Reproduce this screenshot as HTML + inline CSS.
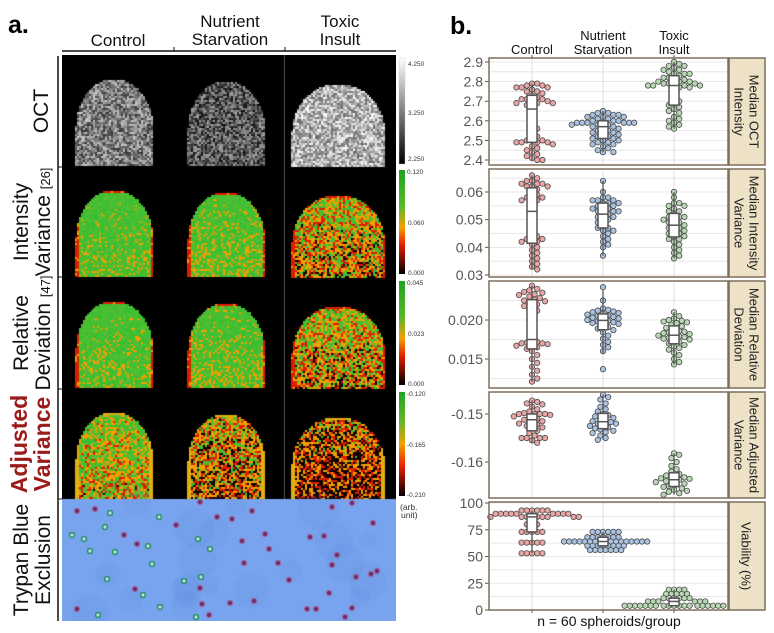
<!DOCTYPE html>
<html><head><meta charset="utf-8">
<style>
html,body{margin:0;padding:0;background:#fff;}
#root{position:relative;width:774px;height:633px;overflow:hidden;font-family:"Liberation Sans",sans-serif;}
canvas{position:absolute;left:62px;top:55px;}
svg{position:absolute;left:0;top:0;}
</style></head>
<body>
<div id="root">
<canvas id="imgs" width="334" height="566"></canvas>
<svg id="fig" width="774" height="633" xmlns="http://www.w3.org/2000/svg">
  <text x="8" y="33" font-size="25" font-weight="bold">a.</text>
  <text x="450" y="34" font-size="25" font-weight="bold">b.</text>
  <g font-size="17" text-anchor="middle" fill="#111">
    <text x="118" y="46">Control</text>
    <text x="230" y="27">Nutrient</text>
    <text x="230" y="45">Starvation</text>
    <text x="340" y="27">Toxic</text>
    <text x="340" y="45">Insult</text>
  </g>
  <line x1="62" y1="51" x2="396" y2="51" stroke="#111" stroke-width="1.5"/>
  <line x1="174" y1="47" x2="174" y2="51" stroke="#111"/>
  <line x1="285" y1="47" x2="285" y2="51" stroke="#111"/>
  <line x1="58" y1="56" x2="58" y2="621" stroke="#111" stroke-width="1.5"/>
  <g stroke="#111">
    <line x1="58" y1="167" x2="62" y2="167"/><line x1="58" y1="277" x2="62" y2="277"/>
    <line x1="58" y1="389" x2="62" y2="389"/><line x1="58" y1="499" x2="62" y2="499"/>
  </g>
  <g font-size="21" text-anchor="middle" fill="#111">
    <text transform="translate(48,111) rotate(-90)">OCT</text>
    <text transform="translate(28,222) rotate(-90)">Intensity</text>
    <text transform="translate(50,222) rotate(-90)">Variance <tspan font-size="13">[26]</tspan></text>
    <text transform="translate(28,333) rotate(-90)">Relative</text>
    <text transform="translate(50,333) rotate(-90)">Deviation <tspan font-size="13">[47]</tspan></text>
    <text transform="translate(27,444) rotate(-90)" fill="#9b1b1b" font-weight="bold" font-size="23">Adjusted</text>
    <text transform="translate(50,444) rotate(-90)" fill="#9b1b1b" font-weight="bold" font-size="23">Variance</text>
    <text transform="translate(28,560) rotate(-90)">Trypan Blue</text>
    <text transform="translate(50,560) rotate(-90)">Exclusion</text>
  </g>
  <defs>
    <linearGradient id="gGray" x1="0" y1="0" x2="0" y2="1"><stop offset="0" stop-color="#fff"/><stop offset="1" stop-color="#000"/></linearGradient>
    <linearGradient id="gHeat" x1="0" y1="0" x2="0" y2="1"><stop offset="0" stop-color="#1fa31f"/><stop offset="0.35" stop-color="#58b82a"/><stop offset="0.55" stop-color="#f2a000"/><stop offset="0.72" stop-color="#e81c00"/><stop offset="1" stop-color="#000"/></linearGradient>
    <linearGradient id="gHeat2" x1="0" y1="0" x2="0" y2="1"><stop offset="0" stop-color="#1fa31f"/><stop offset="0.3" stop-color="#6cb52a"/><stop offset="0.5" stop-color="#f2a000"/><stop offset="0.72" stop-color="#e81c00"/><stop offset="1" stop-color="#000"/></linearGradient>
  </defs>
  <g>
    <rect x="399" y="58" width="6" height="106" fill="url(#gGray)" stroke="#ccc" stroke-width="0.4"/>
    <rect x="399" y="170" width="6" height="104" fill="url(#gHeat)"/>
    <rect x="399" y="281" width="6" height="104" fill="url(#gHeat)"/>
    <rect x="399" y="392" width="6" height="104" fill="url(#gHeat2)"/>
  </g>
  <g font-size="6.5" fill="#333">
    <text x="408" y="66">4.250</text><text x="408" y="115">3.250</text><text x="408" y="161">2.250</text>
    <text x="407" y="174">0.120</text><text x="408" y="225">0.060</text><text x="408" y="275">0.000</text>
    <text x="407" y="285">0.045</text><text x="408" y="336">0.023</text><text x="408" y="386">0.000</text>
    <text x="407" y="396">-0.120</text><text x="407" y="447">-0.165</text><text x="407" y="497">-0.210</text>
    <text x="400" y="510" font-size="8.5">(arb.</text>
    <text x="401" y="518" font-size="8.5">unit)</text>
  </g>
  <g font-size="13" text-anchor="middle" fill="#111">
    <text x="532" y="54">Control</text>
    <text x="603" y="40">Nutrient</text>
    <text x="603" y="54">Starvation</text>
    <text x="674" y="40">Toxic</text>
    <text x="674" y="54">Insult</text>
  </g>
  <g id="plots"></g>
  <text x="609" y="626" font-size="14" text-anchor="middle" fill="#111">n = 60 spheroids/group</text>
</svg>
</div>
<script>
// ---------- chart data ----------
const categories = ["Control","Nutrient Starvation","Toxic Insult"];
const octCtrl=[2.79,2.79,2.78,2.78,2.77,2.77,2.77,2.76,2.75,2.75,2.74,2.73,2.72,2.71,2.71,2.71,2.70,2.70,2.69,2.69,2.69,2.68,2.66,2.62,2.58,2.56,2.54,2.52,2.50,2.50,2.50,2.49,2.49,2.49,2.49,2.48,2.47,2.46,2.45,2.44,2.43,2.42,2.41,2.40,2.40];
const octNutr=[2.65,2.64,2.64,2.63,2.63,2.63,2.62,2.62,2.62,2.61,2.61,2.60,2.60,2.60,2.59,2.59,2.59,2.59,2.59,2.59,2.59,2.58,2.58,2.58,2.57,2.57,2.56,2.56,2.55,2.55,2.54,2.54,2.53,2.53,2.52,2.52,2.51,2.51,2.50,2.50,2.49,2.49,2.48,2.48,2.47,2.46,2.45,2.44,2.44];
const octTox=[2.90,2.89,2.88,2.88,2.87,2.86,2.86,2.85,2.84,2.84,2.84,2.83,2.82,2.82,2.81,2.81,2.80,2.80,2.80,2.79,2.79,2.79,2.78,2.78,2.78,2.78,2.78,2.77,2.77,2.75,2.72,2.70,2.69,2.68,2.67,2.66,2.65,2.64,2.62,2.61,2.60,2.59,2.58,2.57,2.56];
const ivCtrl=[0.066,0.065,0.064,0.064,0.063,0.063,0.063,0.062,0.062,0.062,0.061,0.060,0.059,0.058,0.058,0.058,0.057,0.057,0.055,0.053,0.050,0.047,0.045,0.044,0.043,0.043,0.043,0.042,0.042,0.041,0.040,0.039,0.038,0.037,0.036,0.035,0.034,0.033,0.032];
const ivNutr=[0.064,0.060,0.058,0.058,0.057,0.057,0.057,0.056,0.056,0.056,0.055,0.055,0.054,0.054,0.054,0.053,0.053,0.053,0.052,0.052,0.051,0.051,0.050,0.050,0.049,0.048,0.047,0.047,0.046,0.046,0.045,0.044,0.043,0.042,0.041,0.040,0.037];
const ivTox=[0.060,0.058,0.056,0.056,0.055,0.055,0.054,0.053,0.053,0.052,0.051,0.051,0.051,0.050,0.050,0.049,0.049,0.048,0.048,0.047,0.047,0.046,0.046,0.045,0.045,0.044,0.044,0.043,0.043,0.042,0.041,0.040,0.039,0.038,0.037,0.036];
const rdCtrl=[0.0244,0.0240,0.0238,0.0236,0.0235,0.0233,0.0232,0.0230,0.0228,0.0226,0.0225,0.0224,0.0222,0.0220,0.0218,0.0215,0.0212,0.0190,0.0175,0.0172,0.0171,0.0170,0.0170,0.0169,0.0168,0.0167,0.0165,0.0163,0.0160,0.0155,0.0150,0.0145,0.0140,0.0135,0.0130,0.0125,0.0121];
const rdNutr=[0.0242,0.0225,0.0215,0.0213,0.0212,0.0211,0.0210,0.0209,0.0208,0.0207,0.0206,0.0205,0.0204,0.0203,0.0202,0.0201,0.0200,0.0199,0.0198,0.0197,0.0196,0.0195,0.0193,0.0191,0.0189,0.0187,0.0184,0.0180,0.0176,0.0172,0.0168,0.0165,0.0160,0.0137];
const rdTox=[0.0210,0.0205,0.0202,0.0200,0.0199,0.0198,0.0197,0.0196,0.0194,0.0192,0.0190,0.0188,0.0186,0.0185,0.0184,0.0183,0.0182,0.0181,0.0180,0.0179,0.0178,0.0177,0.0176,0.0175,0.0174,0.0172,0.0170,0.0168,0.0166,0.0164,0.0162,0.0158,0.0155,0.0150,0.0146,0.0143];
const avCtrl=[-0.1472,-0.1475,-0.1478,-0.1480,-0.1485,-0.1490,-0.1495,-0.1498,-0.1500,-0.1500,-0.1500,-0.1500,-0.1502,-0.1505,-0.1508,-0.1510,-0.1512,-0.1515,-0.1518,-0.1520,-0.1522,-0.1525,-0.1528,-0.1530,-0.1535,-0.1540,-0.1545,-0.1550,-0.1550,-0.1550,-0.1550,-0.1555,-0.1560];
const avNutr=[-0.1460,-0.1465,-0.1470,-0.1478,-0.1485,-0.1490,-0.1495,-0.1500,-0.1502,-0.1505,-0.1508,-0.1510,-0.1512,-0.1515,-0.1517,-0.1520,-0.1520,-0.1522,-0.1525,-0.1528,-0.1530,-0.1532,-0.1535,-0.1538,-0.1540,-0.1545,-0.1550,-0.1554];
const avTox=[-0.1582,-0.1585,-0.1592,-0.1600,-0.1608,-0.1615,-0.1620,-0.1625,-0.1628,-0.1630,-0.1632,-0.1634,-0.1635,-0.1637,-0.1640,-0.1640,-0.1642,-0.1645,-0.1647,-0.1650,-0.1652,-0.1655,-0.1658,-0.1660,-0.1662,-0.1665,-0.1668];
const viCtrl=[93,93,93,93,93,93,90,90,90,90,90,90,90,90,90,87,87,87,87,87,87,87,87,87,80,80,80,73,73,73,73,73,63,63,63,63,63,53,53,53,53,53];
const viNutr=[73,73,73,73,73,73,68,68,68,68,68,68,68,64,64,64,64,64,64,64,64,64,64,64,64,64,64,64,64,64,60,60,60,60,60,60,60,60,56,56,56,56,56,56,56];
const viTox=[19,19,19,19,15,15,15,15,15,11,11,11,11,11,11,8,8,8,8,8,8,4,4,4,4,4,4,4,4,4,4,4,4,4,4,4,4,4,4,4];
const octTicks=[2.4,2.5,2.6,2.7,2.8,2.9], ivTicks=[0.03,0.04,0.05,0.06], rdTicks=[0.015,0.020], avTicks=[-0.15,-0.16], viTicks=[0,25,50,75,100];
const octTickLabels=["2.4","2.5","2.6","2.7","2.8","2.9"], ivTickLabels=["0.03","0.04","0.05","0.06"], rdTickLabels=["0.015","0.020"], avTickLabels=["-0.15","-0.16"], viTickLabels=["0","25","50","75","100"];

// ---------- layout ----------
const NS="http://www.w3.org/2000/svg";
const plotX0=489, plotX1=728, stripX1=765;
const catX=[532,603,674];
const fills=["#eba5a5","#abc3e2","#b9d9b4"];
const panels=[
 {top:58,bot:165,v0:2.4,p0:160,v1:2.9,p1:62,ticks:octTicks,labels:octTickLabels,data:[octCtrl,octNutr,octTox],strip:["Median OCT","Intensity"],name:"oct"},
 {top:169,bot:277,v0:0.03,p0:275,v1:0.06,p1:192,ticks:ivTicks,labels:ivTickLabels,data:[ivCtrl,ivNutr,ivTox],strip:["Median Intensity","Variance"],name:"intensity-variance"},
 {top:281,bot:388,v0:0.015,p0:359,v1:0.020,p1:320,ticks:rdTicks,labels:rdTickLabels,data:[rdCtrl,rdNutr,rdTox],strip:["Median Relative","Deviation"],name:"relative-deviation"},
 {top:392,bot:498,v0:-0.16,p0:462,v1:-0.15,p1:414,ticks:avTicks,labels:avTickLabels,data:[avCtrl,avNutr,avTox],strip:["Median Adjusted","Variance"],name:"adjusted-variance"},
 {top:502,bot:610,v0:0,p0:610,v1:100,p1:503,ticks:viTicks,labels:viTickLabels,data:[viCtrl,viNutr,viTox],strip:["Viability (%)"],name:"viability"}
];
function mk(tag,attrs,parent){const e=document.createElementNS(NS,tag);for(const k in attrs)e.setAttribute(k,attrs[k]);parent.appendChild(e);return e;}
function quant(a,q){const s=[...a].sort((x,y)=>x-y);const p=(s.length-1)*q,i=Math.floor(p);return s[i]+(s[Math.min(i+1,s.length-1)]-s[i])*(p-i);}
const root=document.getElementById('plots');
const R=2.7, D=5.2;
panels.forEach(P=>{
  const ys=v=>P.p0+(v-P.v0)*(P.p1-P.p0)/(P.v1-P.v0);
  const g=mk('g',{},root);
  
  
  const bg=mk('rect',{x:plotX0,y:P.top,width:plotX1-plotX0,height:P.bot-P.top,fill:'#fff'},g);
  
  
  const step=P.ticks.length>1?P.ticks[1]-P.ticks[0]:0.005;
  const lo=Math.min(P.v0,P.v1)-3*step, hi=Math.max(P.v0,P.v1)+3*step;
  for(let v=lo;v<=hi+1e-9;v+=step/2){const y=ys(v);if(y<P.top+0.5||y>P.bot-0.5)continue;
    const gl=mk('line',{x1:plotX0,x2:plotX1,y1:y,y2:y,stroke:'#e2e2e2','stroke-width':0.8},g);
    
    }
  catX.forEach(x=>{const vl=mk('line',{x1:x,x2:x,y1:P.top,y2:P.bot,stroke:'#dcdcdc','stroke-width':0.9},g);
    
    });
  P.ticks.forEach((t,i)=>{const y=ys(t);
    mk('line',{x1:485,x2:489,y1:y,y2:y,stroke:'#555'},g);
    const tx=mk('text',{x:483,y:y+5,'font-size':14,'text-anchor':'end',fill:'#555'},g);
    tx.textContent=P.labels[i];
    
    });
  P.data.forEach((arr,ci)=>{
    const cx=catX[ci];const placed=[];
    const sorted=[...arr].sort((a,b)=>b-a);
    sorted.forEach(v=>{const y=ys(v);let x=cx;
      for(let k=0;k<200;k++){const off=(k%2?1:-1)*Math.ceil(k/2)*D*0.5;const tx=cx+off;
        if(placed.every(p=>(p[0]-tx)**2+(p[1]-y)**2>=D*D*0.9)){x=tx;break;}}
      placed.push([x,y]);
      const c=mk('circle',{cx:x,cy:y,r:R,fill:fills[ci],stroke:'#4a4a4a','stroke-width':0.8},g);
      
      });
    const q1=quant(arr,0.25),q2=quant(arr,0.5),q3=quant(arr,0.75),mn=Math.min(...arr),mx=Math.max(...arr);
    const iq=q3-q1;const wl=Math.max(mn,q1-1.5*iq),wh=Math.min(mx,q3+1.5*iq);
    mk('line',{x1:cx,x2:cx,y1:ys(wh),y2:ys(wl),stroke:'#555','stroke-width':1.3},g);
    const b=mk('rect',{x:cx-5,y:ys(q3),width:10,height:Math.max(2,ys(q1)-ys(q3)),fill:'#fff',stroke:'#555','stroke-width':1.5},g);
    
    
    mk('line',{x1:cx-5,x2:cx+5,y1:ys(q2),y2:ys(q2),stroke:'#555','stroke-width':1.5},g);
  });
  const fr=mk('rect',{x:plotX0,y:P.top,width:plotX1-plotX0,height:P.bot-P.top,fill:'none',stroke:'#7d6e5c','stroke-width':1.5},g);
  
  
  const st=mk('rect',{x:plotX1+1,y:P.top,width:stripX1-plotX1-1,height:P.bot-P.top,fill:'#ede1c6',stroke:'#7d6e5c','stroke-width':1.5},g);
  
  
  const cy=(P.top+P.bot)/2;
  P.strip.forEach((s,i)=>{const n=P.strip.length;const x=(plotX1+stripX1)/2+(n===1?-5:(i===0?3:-12));
    const t=mk('text',{transform:`translate(${x},${cy}) rotate(90)`,'font-size':13,'text-anchor':'middle',fill:'#222'},g);
    t.textContent=s;
    
    });
});
catX.forEach(x=>mk('line',{x1:x,x2:x,y1:55,y2:58,stroke:'#555'},root));
catX.forEach(x=>mk('line',{x1:x,x2:x,y1:610,y2:613,stroke:'#555'},root));

// ---------- left image grid (texture only) ----------
const cv=document.getElementById('imgs'),ctx=cv.getContext('2d');
let seed=12345;function rnd(){seed=(seed*1103515245+12345)%2147483648;return seed/2147483648;}
const rowsY=[0,111,222,333,444,566];
ctx.fillStyle='#000';ctx.fillRect(0,0,334,444);
const domes=[[13,90,23],[14,91,25],[7,100,28]];
function inDome(px,py,x0,x1,top,bot){if(px<x0||px>x1||py<top||py>bot)return false;
  const r=(x1-x0)/2,cx=(x0+x1)/2,ry=48;if(py>top+ry)return true;
  const dx=(px-cx)/r,dy=(top+ry-py)/ry;return dx*dx+dy*dy<=1;}
const gm=[0.5,0.35,0.7];
function heat(t){if(t<0.12)return[15,0,0];if(t<0.28)return[220,30,0];if(t<0.5)return[240,160,0];return[50+Math.floor(rnd()*40),190,50];}
const biasTab=[[0,0,0],[0.85,0.8,0.5],[0.85,0.8,0.5],[0.6,0.42,0.3]];
for(let row=0;row<4;row++){for(let col=0;col<3;col++){
  const [a,b,tp]=domes[col];const ox=col*111,oy=rowsY[row];
  const x0=ox+a,x1=ox+b,top=oy+tp,bot=rowsY[row+1];
  for(let py=top;py<bot;py+=2)for(let px=x0;px<x1;px+=2){
    if(!inDome(px,py,x0,x1,top,bot))continue;
    let c;
    if(row===0){const m=gm[col];let v=Math.max(0,Math.min(1,m+(rnd()-0.5)*0.6));const g=Math.floor(v*255);c=[g,g,g];}
    else{
      const edge=Math.min(px-x0,x1-px,py-top);
      let bias=biasTab[row][col]-(py-top)/(bot-top)*0.2;
      let t=bias+(rnd()-0.5)*0.65;if(edge<3&&row<3)t=0.2+rnd()*0.1;
      c=heat(t);
      if(row===3&&edge<4)c=[225,175,20];
    }
    ctx.fillStyle=`rgb(${c[0]},${c[1]},${c[2]})`;ctx.fillRect(px,py,2,2);
  }}}
// trypan row
const ty=444;ctx.fillStyle='#78a3ee';ctx.fillRect(0,ty,334,122);
for(let i=0;i<20;i++){ctx.fillStyle='rgba(70,110,210,0.08)';ctx.beginPath();ctx.arc(rnd()*334,ty+rnd()*122,8+rnd()*14,0,7);ctx.fill();}
const spots=[[15,12,'p'],[33,10,'p'],[48,14,'g'],[97,18,'g'],[43,28,'g'],[10,36,'g'],[22,40,'g'],[62,36,'p'],[75,45,'p'],[28,52,'g'],[53,53,'g'],[86,47,'g'],[90,65,'g'],[45,80,'g'],[73,90,'p'],[81,96,'g'],[15,110,'p'],[98,108,'g'],[36,116,'g'],
 [138,3,'p'],[114,26,'p'],[155,18,'p'],[170,20,'p'],[190,12,'p'],[203,35,'p'],[180,42,'p'],[207,50,'p'],[136,40,'g'],[148,50,'g'],[182,64,'p'],[216,64,'p'],[122,82,'g'],[139,78,'g'],[138,89,'p'],[140,105,'p'],[168,104,'p'],[192,102,'p'],[147,116,'p'],[134,118,'g'],
 [270,8,'p'],[290,4,'p'],[311,24,'p'],[248,38,'p'],[262,37,'p'],[275,56,'p'],[270,66,'p'],[309,75,'p'],[315,72,'p'],[294,78,'p'],[227,81,'p'],[267,94,'p'],[245,110,'p'],[254,110,'p'],[290,109,'p'],[283,118,'p']];
spots.forEach(s=>{const x=s[0],y=ty+s[1];ctx.beginPath();ctx.arc(x,y,2.4,0,7);
  if(s[2]==='p'){ctx.fillStyle='#5a2a70';ctx.fill();ctx.strokeStyle='rgba(190,80,120,0.7)';ctx.lineWidth=1.2;ctx.stroke();}
  else{ctx.fillStyle='#cfe6f0';ctx.fill();ctx.strokeStyle='#138a4a';ctx.lineWidth=1.3;ctx.stroke();}});
ctx.strokeStyle='#555';ctx.lineWidth=1;ctx.beginPath();ctx.moveTo(222.5,0);ctx.lineTo(222.5,444);ctx.stroke();
</script>
</body></html>
